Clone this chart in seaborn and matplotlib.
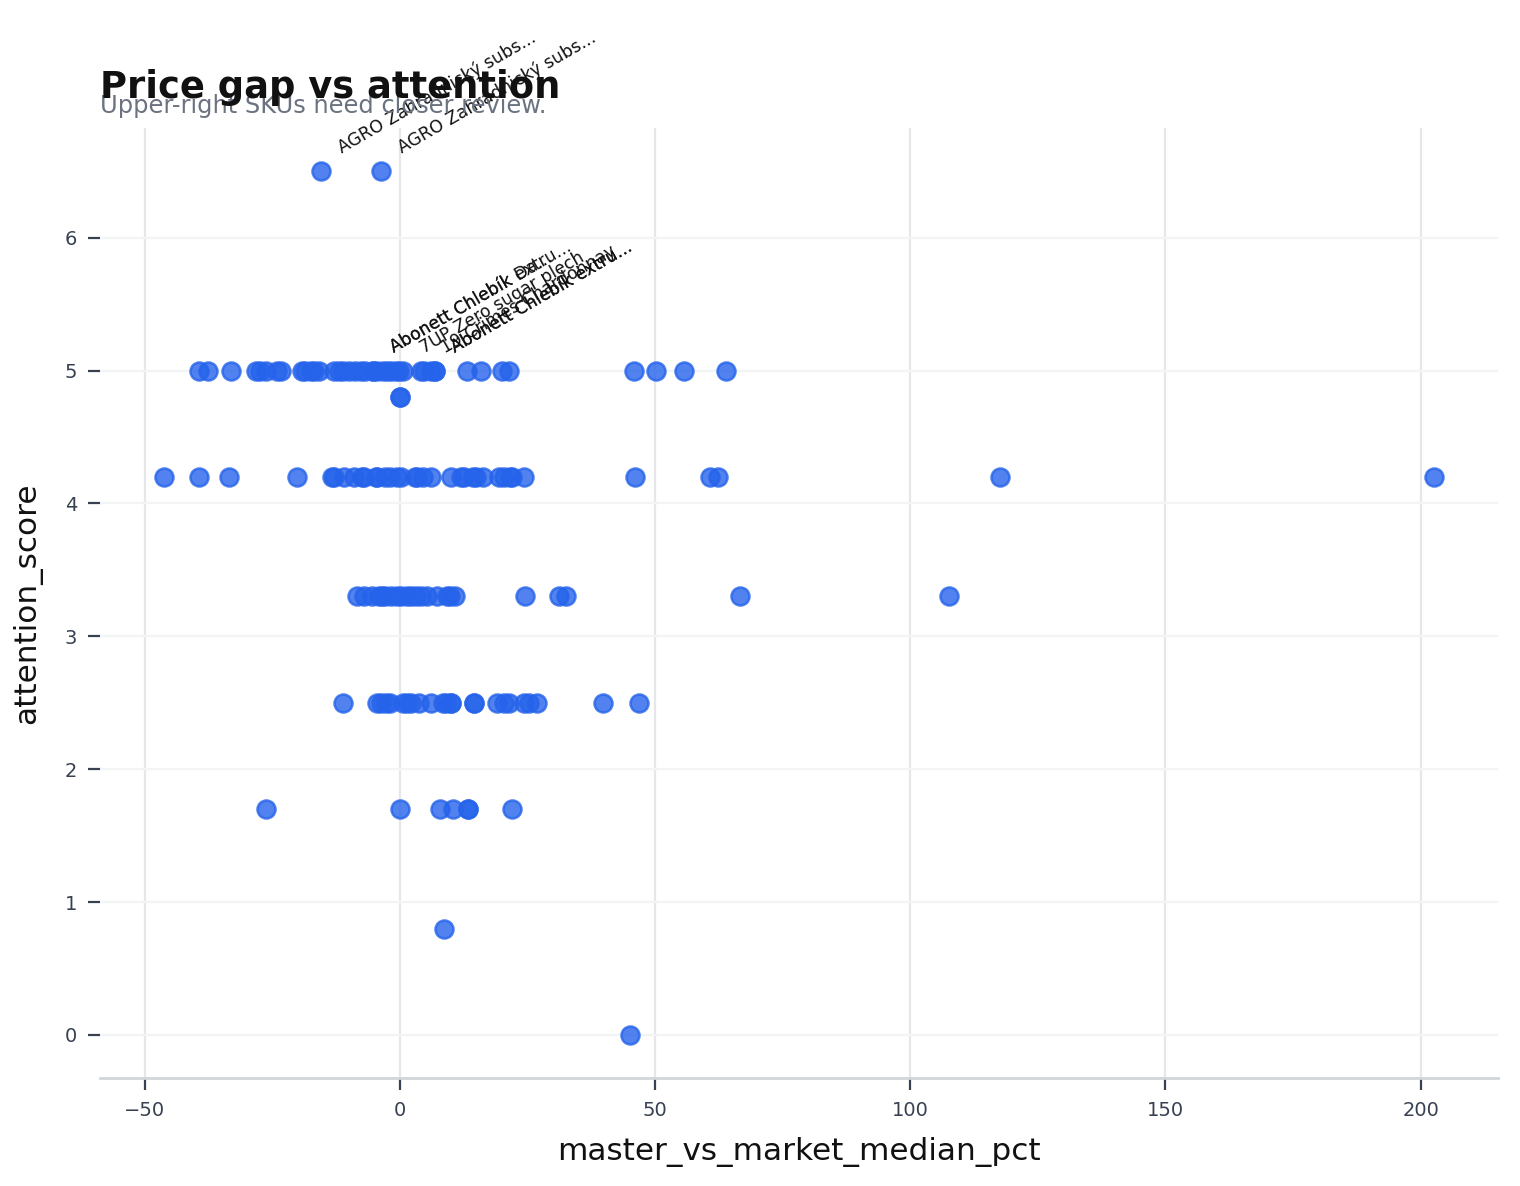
import pandas as pd
import matplotlib
matplotlib.use("Agg")
import matplotlib.pyplot as plt
import seaborn as sns

# ── Data ──────────────────────────────────────────────────
gap_650 = [-15.5, -3.7]
gap_500 = [-39.4, -37.6, -33.1, -28.2, -27.5, -26.3, -24.1, -23.3, -19.2, -18.5,
           -17.5, -16.9, -15.9, -13.0, -12.0, -11.2, -10.0, -8.8, -7.6, -6.9,
           -5.3, -5.3, -4.5, -3.3, -2.5, -1.8, -0.8, -0.2, 0.6, 4.1, 4.8, 6.1,
           6.8, 6.8, 13.1, 15.9, 20.0, 21.4, 45.9, 50.2, 55.7, 63.9]
gap_480 = [0.0, 0.0]
gap_420 = [-46.3, -39.3, -33.5, -20.1, -13.2, -13.0, -11.0, -9.0, -7.5, -7.0,
           -4.7, -4.5, -3.0, -2.0, -0.5, 0.3, 3.0, 3.4, 4.5, 6.1, 10.0, 12.0,
           12.5, 14.3, 15.0, 16.2, 19.4, 20.5, 21.6, 22.0, 24.4, 46.1, 60.8,
           62.4, 117.6, 202.7]
gap_330 = [-8.4, -7.1, -5.5, -4.1, -3.5, -2.9, -1.8, -0.6, 0.2, 1.4, 2.2, 3.1,
           4.1, 5.3, 7.3, 9.2, 9.8, 10.8, 24.5, 31.2, 32.5, 66.7, 107.5]
gap_250 = [-11.2, -4.5, -3.7, -2.7, -2.0, 0.6, 1.4, 2.2, 3.7, 6.1, 8.4, 9.0,
           10.0, 10.0, 14.5, 14.5, 19.0, 20.4, 21.4, 24.3, 25.3, 26.9, 39.8, 46.9]
gap_170 = [-26.3, 0.0, 7.8, 10.4, 13.3, 13.3, 22.0]
gap_080 = [8.6]
gap_000 = [45.1]

score_levels = [6.5, 5.0, 4.8, 4.2, 3.3, 2.5, 1.7, 0.8, 0.0]
gap_rows = [gap_650, gap_500, gap_480, gap_420, gap_330, gap_250, gap_170, gap_080, gap_000]

# labelled SKUs (upper-right candidates)
label_names = ["AGRO Zahradnický subs...", "AGRO Zahradnický subs...",
               "Abonett Chlebík Da...", "Abonett Chlebík extru...",
               "7UP Zero sugar plech", "19 Crimes Chardonnay",
               "Abonett Chlebík extru...", "Abonett Chlebík extru..."]
label_gap = [-15.5, -3.7, -5.3, -5.3, 0.6, 4.8, 6.8, 6.8]
label_score = [6.5, 6.5, 5.0, 5.0, 5.0, 5.0, 5.0, 5.0]

BLUE = "#2563eb"

df = pd.DataFrame({
    "master_vs_market_median_pct": [g for row in gap_rows for g in row],
    "attention_score": [s for s, row in zip(score_levels, gap_rows) for _ in row],
})

sns.set_theme(style="white")
plt.rcParams["font.family"] = ["DejaVu Sans"]

fig = plt.figure(figsize=(7.6, 5.93), dpi=200)
ax = fig.add_axes([0.0658, 0.091, 0.9197, 0.801])

sns.scatterplot(data=df, x="master_vs_market_median_pct", y="attention_score",
                color=BLUE, alpha=0.8, s=42, edgecolor=BLUE, linewidth=0.9, ax=ax)

for name, gx, sy in zip(label_names, label_gap, label_score):
    ax.annotate(name, (gx, sy), xytext=(5, 5), textcoords="offset points",
                rotation=30, fontsize=6.2, ha="left", va="bottom", color="#111111")

ax.xaxis.grid(True, color="#e5e7eb", linewidth=0.8)
ax.yaxis.grid(True, color="#f3f4f6", linewidth=0.8)
ax.set_axisbelow(True)
for side in ["left", "right", "top"]:
    ax.spines[side].set_visible(False)
ax.spines["bottom"].set_color("#d1d5db")
ax.spines["bottom"].set_linewidth(1.0)

ax.tick_params(axis="both", which="both", length=4.3, width=0.8, color="#374151",
               labelsize=7, labelcolor="#374151", pad=4, left=True, bottom=True)
ax.set_xlabel("master_vs_market_median_pct", fontsize=11.2, color="#111111", labelpad=6)
ax.set_ylabel("attention_score", fontsize=11.2, color="#111111", labelpad=8)

ax.set_title("Price gap vs attention", loc="left", fontsize=13.3, fontweight="bold",
             color="#111111", pad=11)
ax.text(0, 1.016, "Upper-right SKUs need closer review.", transform=ax.transAxes,
        fontsize=8.7, color="#6b7280", ha="left", va="baseline")

plt.savefig("out.png", dpi=200)
plt.close()
